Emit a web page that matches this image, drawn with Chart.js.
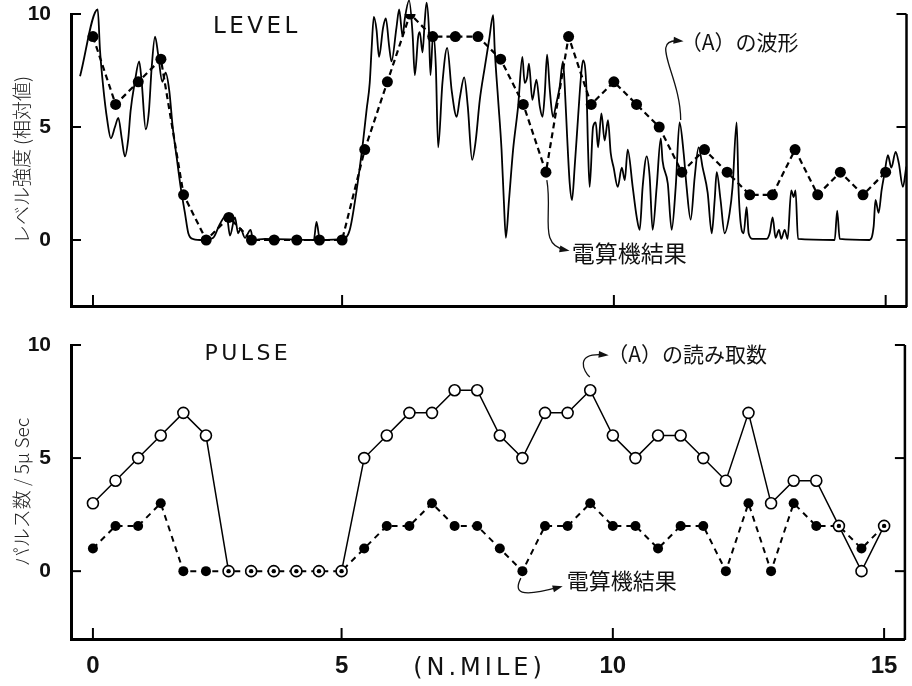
<!DOCTYPE html>
<html>
<head>
<meta charset="utf-8">
<script src="https://cdn.jsdelivr.net/npm/chart.js@4.4.1/dist/chart.umd.min.js"></script>
<style>
html, body { margin: 0; padding: 0; background: #fff; }
#wrap { position: relative; width: 912px; height: 686px; }
#wrap canvas { position: absolute; left: 0; }
#level-chart { top: 0; }
#pulse-chart { top: 320px; }
</style>
</head>
<body>
<div id="wrap">
  <canvas id="level-chart" width="912" height="320"></canvas>
  <canvas id="pulse-chart" width="912" height="366"></canvas>
</div>
<script>
// sample number along the track (the readings are evenly spaced)
const samples = [0,1,2,3,4,5,6,7,8,9,10,11,12,13,14,15,16,17,18,19,20,21,22,23,24,25,26,27,28,29,30,31,32,33,34,35];

// x ticks: sample where each N.MILE mark falls, and its label
const xTickPos = [0, 11, 23, 35];
const xTickLabels = ['0', '5', '10', '15'];
const yTicks = [0, 5, 10];

// LEVEL panel
const levelCalc = [9,6,7,8,2,0,1,0,0,0,0,0,4,7,10,9,9,9,8,6,3,9,6,7,6,5,3,4,3,2,2,4,2,3,2,3];
// (A) waveform, [sample, level]
const levelWave = [
  [-0.57,7.25],[0.21,10.2],[0.31,8.4],[0.45,6.8],[0.63,5.3],[0.79,4.5],[0.97,5.0],[1.12,5.4],
  [1.27,4.5],[1.41,3.7],[1.56,4.5],[1.66,5.7],[1.85,7.0],[2.04,7.9],[2.15,7.0],[2.33,4.9],
  [2.47,5.7],[2.59,7.6],[2.74,9.0],[2.88,8.2],[3.06,7.0],[3.21,7.4],[3.37,6.6],[3.52,5.0],
  [3.69,3.7],[3.87,2.35],[4.06,1.2],[4.21,0.3],[4.43,0.04],[4.87,0],[5.31,0.1],[5.60,0.7],
  [5.90,1.1],[6.05,0.2],[6.27,1.0],[6.41,0.3],[6.52,0.5],[6.71,0.1],[6.96,0.45],[7.07,0],
  [7.59,0.05],[9.75,0],[9.87,0.8],[10.02,0],[11.03,0.05],[11.34,0.45],[11.64,2.2],[11.93,4.4],
  [12.08,5.75],[12.22,6.95],[12.30,8.4],[12.40,9.87],[12.52,9.3],[12.63,8.1],[12.81,9.4],[12.93,9.8],
  [13.08,8.55],[13.18,7.9],[13.40,9.4],[13.52,10.2],[13.67,9.0],[13.77,9.8],[13.96,10.6],[14.11,9.15],
  [14.21,7.3],[14.36,9.0],[14.43,9.2],[14.55,8.3],[14.65,9.7],[14.73,10.5],[14.83,9.4],[14.90,7.3],
  [15.02,9.15],[15.14,7.65],[15.24,4.1],[15.43,6.95],[15.64,8.5],[15.84,6.6],[16.06,5.45],[16.20,6.3],
  [16.39,7.2],[16.55,5.9],[16.74,3.55],[16.90,4.4],[17.08,6.2],[17.30,7.65],[17.49,8.85],[17.67,9.95],
  [17.74,8.4],[17.89,6.2],[18.04,4.0],[18.14,1.77],[18.23,0.1],[18.37,1.77],[18.55,4.0],[18.77,5.9],
  [18.96,8.1],[19.06,6.95],[19.17,7.2],[19.25,7.8],[19.40,6.2],[19.58,7.1],[19.73,5.9],[19.85,5.45],
  [19.95,6.5],[20.05,8.2],[20.17,6.65],[20.31,5.45],[20.46,6.05],[20.61,6.8],[20.75,7.9],[20.83,6.8],
  [20.93,4.7],[21.05,2.5],[21.15,1.77],[21.27,3.25],[21.42,5.45],[21.57,7.5],[21.64,7.95],[21.79,6.65],
  [21.86,4.0],[21.93,2.35],[22.08,5.0],[22.20,5.2],[22.30,4.1],[22.45,5.6],[22.59,4.4],[22.74,5.3],
  [22.86,3.85],[22.99,3.2],[23.17,2.35],[23.35,3.2],[23.48,2.65],[23.61,4.0],[23.83,2.35],[24.01,1.0],
  [24.14,0.45],[24.27,2.35],[24.45,3.7],[24.58,2.8],[24.71,0.45],[24.89,2.35],[25.07,4.5],[25.15,3.5],
  [25.38,2.5],[25.55,0.45],[25.73,2.35],[25.90,5.2],[26.08,3.85],[26.21,2.35],[26.39,0.9],[26.57,2.8],
  [26.74,4.1],[26.92,3.2],[27.14,2.1],[27.32,0.3],[27.45,1.77],[27.54,3.0],[27.71,1.77],[27.89,0.3],
  [28.11,1.2],[28.24,2.35],[28.42,5.2],[28.51,2.1],[28.64,0.45],[28.73,0.3],[28.86,1.45],[28.95,0.3],
  [29.13,0.05],[29.74,0.05],[29.88,0.3],[30.01,1.0],[30.14,0.1],[30.29,0.45],[30.39,0.05],[30.54,0.45],
  [30.67,0.05],[30.83,2.2],[30.94,1.9],[31.02,2.2],[31.13,0.05],[32.75,0],[32.86,1.3],[32.97,0.05],
  [34.29,0],[34.47,0.6],[34.55,1.77],[34.69,1.2],[34.82,2.2],[34.95,2.95],[35.10,3.75],[35.25,3.2],
  [35.44,3.9],[35.58,3.4],[35.76,2.35],[35.91,3.25]
];

// PULSE panel
const pulseRead = [3,4,5,6,7,6,0,0,0,0,0,0,5,6,7,7,8,8,6,5,7,7,8,6,5,6,6,5,4,7,3,4,4,2,0,2];
const pulseCalc = [1,2,2,3,0,0,0,0,0,0,0,0,1,2,2,3,2,2,1,0,2,2,3,2,2,1,2,2,0,3,0,3,2,2,1,2];

const X_MIN = -0.97, X_MAX = 35.92;
const TICK_FONT = {family: '"Liberation Sans", Arial, sans-serif', size: 21, weight: 'bold'};
const JP_FONT = '"Noto Sans CJK JP", sans-serif';
const LATIN_FONT = '"DejaVu Sans", sans-serif';

function points(xs, ys) {
    return xs.map((x, i) => ({x: x, y: ys[i]}));
}

function overlap(i) {
    return pulseRead[i] === pulseCalc[i];
}

// right-hand frame line and the inward tick marks
const frameTicks = {
    id: 'frameTicks',
    afterDatasetsDraw(chart) {
        const {ctx, chartArea: a, scales: {x, y}} = chart;
        const seg = (x1, y1, x2, y2) => { ctx.beginPath(); ctx.moveTo(x1, y1); ctx.lineTo(x2, y2); ctx.stroke(); };
        ctx.save();
        ctx.strokeStyle = '#000';
        ctx.lineWidth = 2.5;
        seg(a.right, a.top, a.right, a.bottom + 1);
        ctx.lineWidth = 2;
        yTicks.forEach(v => {
            const py = y.getPixelForValue(v);
            seg(a.left, py, a.left + 10, py);
            seg(a.right, py, a.right - 10, py);
        });
        xTickPos.forEach(v => {
            const px = x.getPixelForValue(v);
            seg(px, a.bottom, px, a.bottom - 11);
        });
        ctx.restore();
    }
};

// labels and curly arrows, given in data units
const notes = {
    id: 'notes',
    afterDraw(chart, args, opts) {
        const {ctx, scales: {x, y}} = chart;
        const P = p => [x.getPixelForValue(p[0]), y.getPixelForValue(p[1])];
        ctx.save();
        ctx.fillStyle = '#111';
        ctx.textBaseline = 'middle';
        (opts.texts || []).forEach(t => {
            ctx.font = t.font;
            ctx.letterSpacing = (t.spacing || 0) + 'px';
            ctx.textAlign = t.align || 'left';
            const [px, py] = P([t.x, t.y]);
            ctx.fillText(t.text, px, py);
        });
        ctx.letterSpacing = '0px';
        ctx.strokeStyle = '#111';
        ctx.lineWidth = 1.3;
        (opts.arrows || []).forEach(arr => {
            const [s, c1, c2, e] = arr.map(P);
            ctx.beginPath();
            ctx.moveTo(s[0], s[1]);
            ctx.bezierCurveTo(c1[0], c1[1], c2[0], c2[1], e[0], e[1]);
            ctx.stroke();
            const ang = Math.atan2(e[1] - c2[1], e[0] - c2[0]);
            ctx.beginPath();
            ctx.moveTo(e[0] + 4 * Math.cos(ang), e[1] + 4 * Math.sin(ang));
            ctx.lineTo(e[0] - 6 * Math.cos(ang) - 3.5 * Math.sin(ang), e[1] - 6 * Math.sin(ang) + 3.5 * Math.cos(ang));
            ctx.lineTo(e[0] - 6 * Math.cos(ang) + 3.5 * Math.sin(ang), e[1] - 6 * Math.sin(ang) - 3.5 * Math.cos(ang));
            ctx.closePath();
            ctx.fillStyle = '#111';
            ctx.fill();
        });
        ctx.restore();
    }
};

function makeScales(yMin, xHeight, showXLabels, yTitle) {
    return {
        x: {
            type: 'linear',
            min: X_MIN,
            max: X_MAX,
            afterBuildTicks: s => { s.ticks = xTickPos.map(v => ({value: v})); },
            afterFit: s => { s.height = xHeight; s.paddingLeft = 0; s.paddingRight = 0; },
            grid: {display: false},
            border: {display: true, color: '#000', width: 3},
            ticks: {
                display: showXLabels,
                autoSkip: false,
                maxRotation: 0,
                padding: 5,
                color: '#111',
                font: {family: TICK_FONT.family, size: 24, weight: 'bold'},
                callback: v => xTickLabels[xTickPos.indexOf(v)]
            }
        },
        y: {
            min: yMin,
            max: 10,
            afterBuildTicks: s => { s.ticks = yTicks.map(v => ({value: v})); },
            // no label overhang: the frame sits where the reference puts it
            afterFit: s => { s.width = 71; s.paddingTop = 0; s.paddingBottom = 0; },
            grid: {display: false},
            border: {display: true, color: '#000', width: 3},
            ticks: {padding: 12, color: '#111', font: TICK_FONT},
            title: {
                display: true,
                text: yTitle,
                color: '#222',
                padding: {top: 10, bottom: 0},
                font: {family: JP_FONT, size: 19, weight: '300'}
            }
        }
    };
}

const baseOptions = {
    responsive: false,
    animation: false,
    events: [],
    plugins: {legend: {display: false}, tooltip: {enabled: false}}
};

new Chart(document.getElementById('level-chart'), {
    type: 'line',
    data: {
        datasets: [
            {
                label: '電算機結果',
                data: points(samples, levelCalc),
                order: 0,
                borderColor: '#000',
                borderWidth: 2.2,
                borderDash: [6, 4],
                pointRadius: 5.5,
                pointBackgroundColor: '#000',
                pointBorderColor: '#000',
                pointBorderWidth: 0
            },
            {
                label: '(A) の波形',
                data: levelWave.map(p => ({x: p[0], y: p[1]})),
                order: 1,
                clip: false,
                borderColor: '#000',
                borderWidth: 1.8,
                pointRadius: 0,
                cubicInterpolationMode: 'monotone'
            }
        ]
    },
    options: Object.assign({}, baseOptions, {
        layout: {padding: {top: 14, right: 5, left: 0, bottom: 0}},
        scales: makeScales(-2.92, 14, false, 'レベル強度 (相対値)'),
        plugins: Object.assign({}, baseOptions.plugins, {
            notes: {
                texts: [
                    {text: 'LEVEL', x: 5.3, y: 9.42, font: '23px ' + LATIN_FONT, spacing: 3.5},
                    {text: '（A）の波形', x: 25.95, y: 8.76, font: '21px ' + JP_FONT},
                    {text: '電算機結果', x: 21.14, y: -0.58, font: '23px ' + JP_FONT}
                ],
                arrows: [
                    [[25.95, 5.31], [25.95, 7.3], [24.49, 8.94], [25.9, 8.81]],
                    [[20.04, 2.65], [20.31, 1.11], [19.64, -0.22], [20.87, -0.44]]
                ]
            }
        })
    }),
    plugins: [frameTicks, notes]
});

new Chart(document.getElementById('pulse-chart'), {
    type: 'line',
    data: {
        datasets: [
            {
                label: '電算機結果',
                data: points(samples, pulseCalc),
                order: 3,
                borderColor: '#000',
                borderWidth: 2,
                borderDash: [6, 5],
                pointRadius: 5,
                pointBackgroundColor: '#000',
                pointBorderWidth: 0
            },
            {
                label: '(A) の読み取数',
                data: points(samples, pulseRead),
                order: 2,
                borderColor: '#000',
                borderWidth: 1.5,
                pointRadius: 5.5,
                pointBackgroundColor: '#fff',
                pointBorderColor: '#000',
                pointBorderWidth: 1.6,
                segment: {
                    borderColor: c => (overlap(c.p0DataIndex) && overlap(c.p1DataIndex)) ? 'rgba(0,0,0,0)' : undefined
                }
            },
            {
                label: 'shared',
                data: points(samples, pulseCalc),
                order: 1,
                showLine: false,
                pointRadius: c => overlap(c.dataIndex) ? 2.2 : 0,
                pointBackgroundColor: '#000',
                pointBorderWidth: 0
            }
        ]
    },
    options: Object.assign({}, baseOptions, {
        layout: {padding: {top: 25, right: 5, left: 0, bottom: 0}},
        scales: makeScales(-3.0, 47, true, 'パルス数 / 5μ Sec'),
        plugins: Object.assign({}, baseOptions.plugins, {
            notes: {
                texts: [
                    {text: 'PULSE', x: 4.94, y: 9.6, font: '22px ' + LATIN_FONT, spacing: 3.4},
                    {text: '（A）の読み取数', x: 22.75, y: 9.6, font: '21px ' + JP_FONT},
                    {text: '電算機結果', x: 20.96, y: -0.4, font: '22px ' + JP_FONT},
                    {text: '(N.MILE)', x: 17.1, y: -4.3, align: 'center', font: '24px ' + LATIN_FONT, spacing: 4}
                ],
                arrows: [
                    [[21.98, 8.58], [21.71, 8.81], [21.27, 9.69], [22.64, 9.56]],
                    [[18.93, -0.31], [18.62, -0.93], [18.84, -1.19], [20.61, -0.71]]
                ]
            }
        })
    }),
    plugins: [frameTicks, notes]
});
</script>
</body>
</html>
